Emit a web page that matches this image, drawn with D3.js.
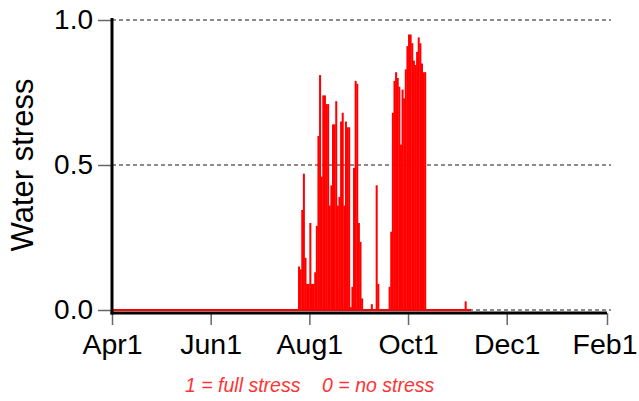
<!DOCTYPE html>
<html>
<head>
<meta charset="utf-8">
<script src="https://cdn.jsdelivr.net/npm/d3@7"></script>
<style>
  body { margin: 0; background: #fff; }
  svg { display: block; font-family: "Liberation Sans", Arial, sans-serif; }
</style>
</head>
<body>
<div id="chart"></div>
<script>
// record runs Apr 1 .. Nov 8, values are zero before stressStart
var recordStart = "2015-04-01"
  , recordEnd = "2015-11-08"
  , stressStart = "2015-07-25";

// daily water stress from stressStart (0 = no stress, 1 = full stress)
var stressValues = [
  0.15, 0.14, 0.345, 0.47, 0.18, 0.09, 0.09, 0.30, 0.09, 0.09,
  0.13, 0.29, 0.60, 0.81, 0.46, 0.74, 0.74, 0.71, 0.71, 0.36,
  0.43, 0.64, 0.64, 0.72, 0.36, 0.39, 0.65, 0.68, 0.36, 0.65,
  0.63, 0.63, 0.01, 0.08, 0.49, 0.79, 0.78, 0.30, 0.235, 0.04,
  0, 0, 0, 0, 0, 0.02, 0, 0, 0.43, 0.09,
  0, 0, 0, 0, 0, 0, 0.08, 0.27, 0.68, 0.79,
  0.82, 0.80, 0.77, 0.57, 0.76, 0.73, 0.83, 0.91, 0.95, 0.95,
  0.92, 0.86, 0.845, 0.89, 0.94, 0.92, 0.85, 0.82, 0.82, 0,
  0, 0, 0, 0, 0, 0, 0, 0, 0, 0,
  0, 0, 0, 0, 0, 0, 0, 0, 0, 0,
  0, 0, 0, 0.03, 0, 0, 0
];

var xTickDates = ["2015-04-01", "2015-06-01", "2015-08-01", "2015-10-01", "2015-12-01", "2016-02-01"];
var xTickLabels = ["Apr1", "Jun1", "Aug1", "Oct1", "Dec1", "Feb1"];
var yTicks = [0, 0.5, 1];
var yTickLabels = ["0.0", "0.5", "1.0"];

var width = 639, height = 401
  , margin = {top: 20, right: 32, bottom: 91, left: 112}
  , parse = d3.timeParse("%Y-%m-%d");

var svg = d3.select("#chart").append("svg")
    .attr("width", width)
    .attr("height", height);

var x = d3.scaleTime()
    .domain([parse(xTickDates[0]), parse(xTickDates[xTickDates.length - 1])])
    .range([margin.left, width - margin.right]);
var y = d3.scaleLinear()
    .domain([0, 1])
    .range([height - margin.bottom, margin.top]);

// build daily records
var start = parse(stressStart);
var days = stressValues.map(function(v, i) {
  return {date: d3.timeDay.offset(start, i), value: v};
});

// dashed grid lines
svg.append("g").selectAll("line")
  .data(yTicks)
  .enter().append("line")
    .attr("x1", x.range()[0])
    .attr("x2", x.range()[1] + 4)
    .attr("y1", function(d) { return y(d); })
    .attr("y2", function(d) { return y(d); })
    .attr("stroke", "#666")
    .attr("stroke-width", 1.3)
    .attr("stroke-dasharray", "4,3");

// zero line of the record
svg.append("line")
    .attr("x1", x(parse(recordStart)))
    .attr("x2", x(d3.timeDay.offset(parse(recordEnd), 1)))
    .attr("y1", y(0))
    .attr("y2", y(0))
    .attr("stroke", "#f00")
    .attr("stroke-width", 2.2);

// bars
svg.append("g").selectAll("rect")
  .data(days.filter(function(d) { return d.value > 0; }))
  .enter().append("rect")
    .attr("x", function(d) { return x(d.date); })
    .attr("width", function(d) { return x(d3.timeDay.offset(d.date, 1)) - x(d.date) + 0.4; })
    .attr("y", function(d) { return y(d.value); })
    .attr("height", function(d) { return y(0) - y(d.value); })
    .attr("fill", "#f00");

// x axis
var xAxis = d3.axisBottom(x)
    .tickValues(xTickDates.map(parse))
    .tickFormat(function(d, i) { return xTickLabels[i]; })
    .tickSize(12)
    .tickSizeOuter(0)
    .tickPadding(9);

var gx = svg.append("g")
    .attr("transform", "translate(0," + (y(0) + 3) + ")")
    .call(xAxis);
gx.select(".domain").remove();
gx.selectAll(".tick line").attr("stroke", "#666").attr("stroke-width", 1.5);
gx.selectAll(".tick text")
    .attr("font-size", 28.5)
    .attr("font-family", "Liberation Sans, Arial, sans-serif")
    .attr("fill", "#000");
// last label sits against the right edge
gx.selectAll(".tick text").filter(function(d, i) { return i === xTickLabels.length - 1; })
    .attr("text-anchor", "end")
    .attr("dx", 30);
gx.append("line")
    .attr("x1", x.range()[0] - 1.5)
    .attr("x2", x.range()[1])
    .attr("stroke", "#000")
    .attr("stroke-width", 3);

// y axis
var yAxis = d3.axisLeft(y)
    .tickValues(yTicks)
    .tickFormat(function(d, i) { return yTickLabels[i]; })
    .tickSize(14)
    .tickSizeOuter(0)
    .tickPadding(5);

var gy = svg.append("g")
    .attr("transform", "translate(" + x.range()[0] + ",0)")
    .call(yAxis);
gy.select(".domain").remove();
gy.selectAll(".tick line").attr("stroke", "#666").attr("stroke-width", 1.5);
gy.selectAll(".tick text")
    .attr("font-size", 28)
    .attr("font-family", "Liberation Sans, Arial, sans-serif")
    .attr("fill", "#000");
gy.append("line")
    .attr("y1", y(1) - 2)
    .attr("y2", y(0) + 4.5)
    .attr("stroke", "#000")
    .attr("stroke-width", 3);

// axis title
svg.append("text")
    .attr("transform", "translate(33," + y(0.5) + ") rotate(-90)")
    .attr("text-anchor", "middle")
    .attr("font-size", 31)
    .attr("fill", "#000")
    .text("Water stress");

// note
svg.append("text")
    .attr("x", 185)
    .attr("y", 392)
    .attr("font-size", 19.5)
    .attr("font-style", "italic")
    .attr("fill", "#f33")
    .attr("xml:space", "preserve")
    .style("white-space", "pre")
    .text("1 = full stress    0 = no stress");
</script>
</body>
</html>
